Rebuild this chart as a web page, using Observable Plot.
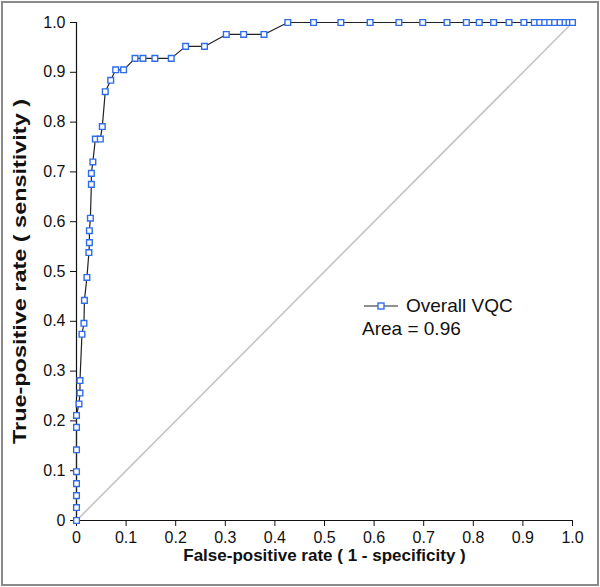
<!DOCTYPE html>
<html>
<head>
<meta charset="utf-8">
<script src="https://cdn.jsdelivr.net/npm/d3@7"></script>
<script src="https://cdn.jsdelivr.net/npm/@observablehq/plot@0.6"></script>
<style>
  html, body { margin: 0; padding: 0; background: #fff; }
  #wrap { position: relative; width: 600px; height: 587px; overflow: hidden; font-family: "Liberation Sans", Arial, sans-serif; }
  #border { position: absolute; left: 1px; top: 1px; width: 594px; height: 581px; border: 2px solid #8a8a8a; pointer-events: none; }
  #legend { position: absolute; left: 362px; top: 294px; font-size: 19px; color: #111; line-height: 23px; }
  #legend .row { display: flex; align-items: center; white-space: nowrap; }
  svg [aria-label="x-axis label"] text { font-weight: bold; font-size: 17px; fill: #111; }
  svg [aria-label="y-axis label"] text { font-weight: bold; font-size: 18px; fill: #111; }
</style>
</head>
<body>
<div id="wrap">
  <div id="chart"></div>
  <div id="legend">
    <div class="row"><svg width="40" height="14"><line x1="2" y1="7" x2="36" y2="7" stroke="#222" stroke-width="1.2"/><rect x="16" y="4" width="6" height="6" fill="#fff" stroke="#2f6de8" stroke-width="1.4"/></svg><span style="margin-left:4px">Overall VQC</span></div>
    <div class="row">Area = 0.96</div>
  </div>
  <div id="border"></div>
</div>
<script>
// ROC curve points (false-positive rate, true-positive rate), in path order
const fpr = [0, 0, 0, 0, 0, 0, 0, 0, 0.005, 0.007, 0.007, 0.011, 0.015, 0.016, 0.021, 0.025, 0.026, 0.026, 0.028, 0.030, 0.030, 0.033, 0.038, 0.048, 0.052, 0.058, 0.069, 0.079, 0.095, 0.118, 0.134, 0.158, 0.191, 0.220, 0.258, 0.302, 0.337, 0.378, 0.426, 0.478, 0.533, 0.592, 0.650, 0.698, 0.747, 0.786, 0.812, 0.841, 0.872, 0.902, 0.923, 0.934, 0.944, 0.954, 0.964, 0.975, 0.985, 0.993, 1.0];
const tpr = [0, 0.026, 0.050, 0.074, 0.098, 0.142, 0.187, 0.211, 0.234, 0.256, 0.281, 0.374, 0.396, 0.442, 0.488, 0.538, 0.558, 0.582, 0.607, 0.675, 0.697, 0.720, 0.766, 0.766, 0.791, 0.861, 0.884, 0.905, 0.905, 0.928, 0.928, 0.928, 0.928, 0.952, 0.952, 0.976, 0.976, 0.976, 1, 1, 1, 1, 1, 1, 1, 1, 1, 1, 1, 1, 1, 1, 1, 1, 1, 1, 1, 1, 1];
const tickValues = [0, 0.1, 0.2, 0.3, 0.4, 0.5, 0.6, 0.7, 0.8, 0.9, 1.0];
const tickLabels = ["0", "0.1", "0.2", "0.3", "0.4", "0.5", "0.6", "0.7", "0.8", "0.9", "1.0"];
const chance = [0, 1];

const pts = fpr.map((x, i) => ({x, y: tpr[i]}));
const fmt = d => tickLabels[tickValues.findIndex(v => Math.abs(v - d) < 1e-9)];

const chart = Plot.plot({
  width: 600,
  height: 587,
  marginLeft: 76,
  marginRight: 28,
  marginTop: 22,
  marginBottom: 67,
  style: {fontFamily: "'Liberation Sans', Arial, sans-serif", fontSize: "16px", color: "#111", background: "#fff"},
  x: {domain: [0, 1]},
  y: {domain: [0, 1]},
  marks: [
    Plot.line(chance, {x: d => d, y: d => d, stroke: "#c4c4c4", strokeWidth: 1.6}),
    Plot.ruleX([0], {stroke: "#111", strokeWidth: 1.2}),
    Plot.ruleY([0], {stroke: "#111", strokeWidth: 1.2}),
    Plot.axisY({ticks: tickValues, tickFormat: fmt, tickSize: 6, tickPadding: 5, label: "True-positive rate ( sensitivity )", labelAnchor: "center", labelOffset: 63, labelArrow: "none", fontSize: 16}),
    Plot.axisX({ticks: tickValues, tickFormat: fmt, tickSize: 6, tickPadding: 5, label: "False-positive rate ( 1 - specificity )", labelAnchor: "center", labelOffset: 40, labelArrow: "none", fontSize: 16}),
    Plot.line(pts, {x: "x", y: "y", stroke: "#222", strokeWidth: 1.2}),
    Plot.dot(pts, {x: "x", y: "y", symbol: "square", r: 3.2, stroke: "#2f6de8", strokeWidth: 1.4, fill: "#fff"})
  ]
});
document.getElementById("chart").appendChild(chart);
const yl = chart.querySelector('[aria-label="y-axis label"] text');
if (yl) { yl.setAttribute("textLength", "345"); yl.setAttribute("lengthAdjust", "spacingAndGlyphs"); }
</script>
</body>
</html>
